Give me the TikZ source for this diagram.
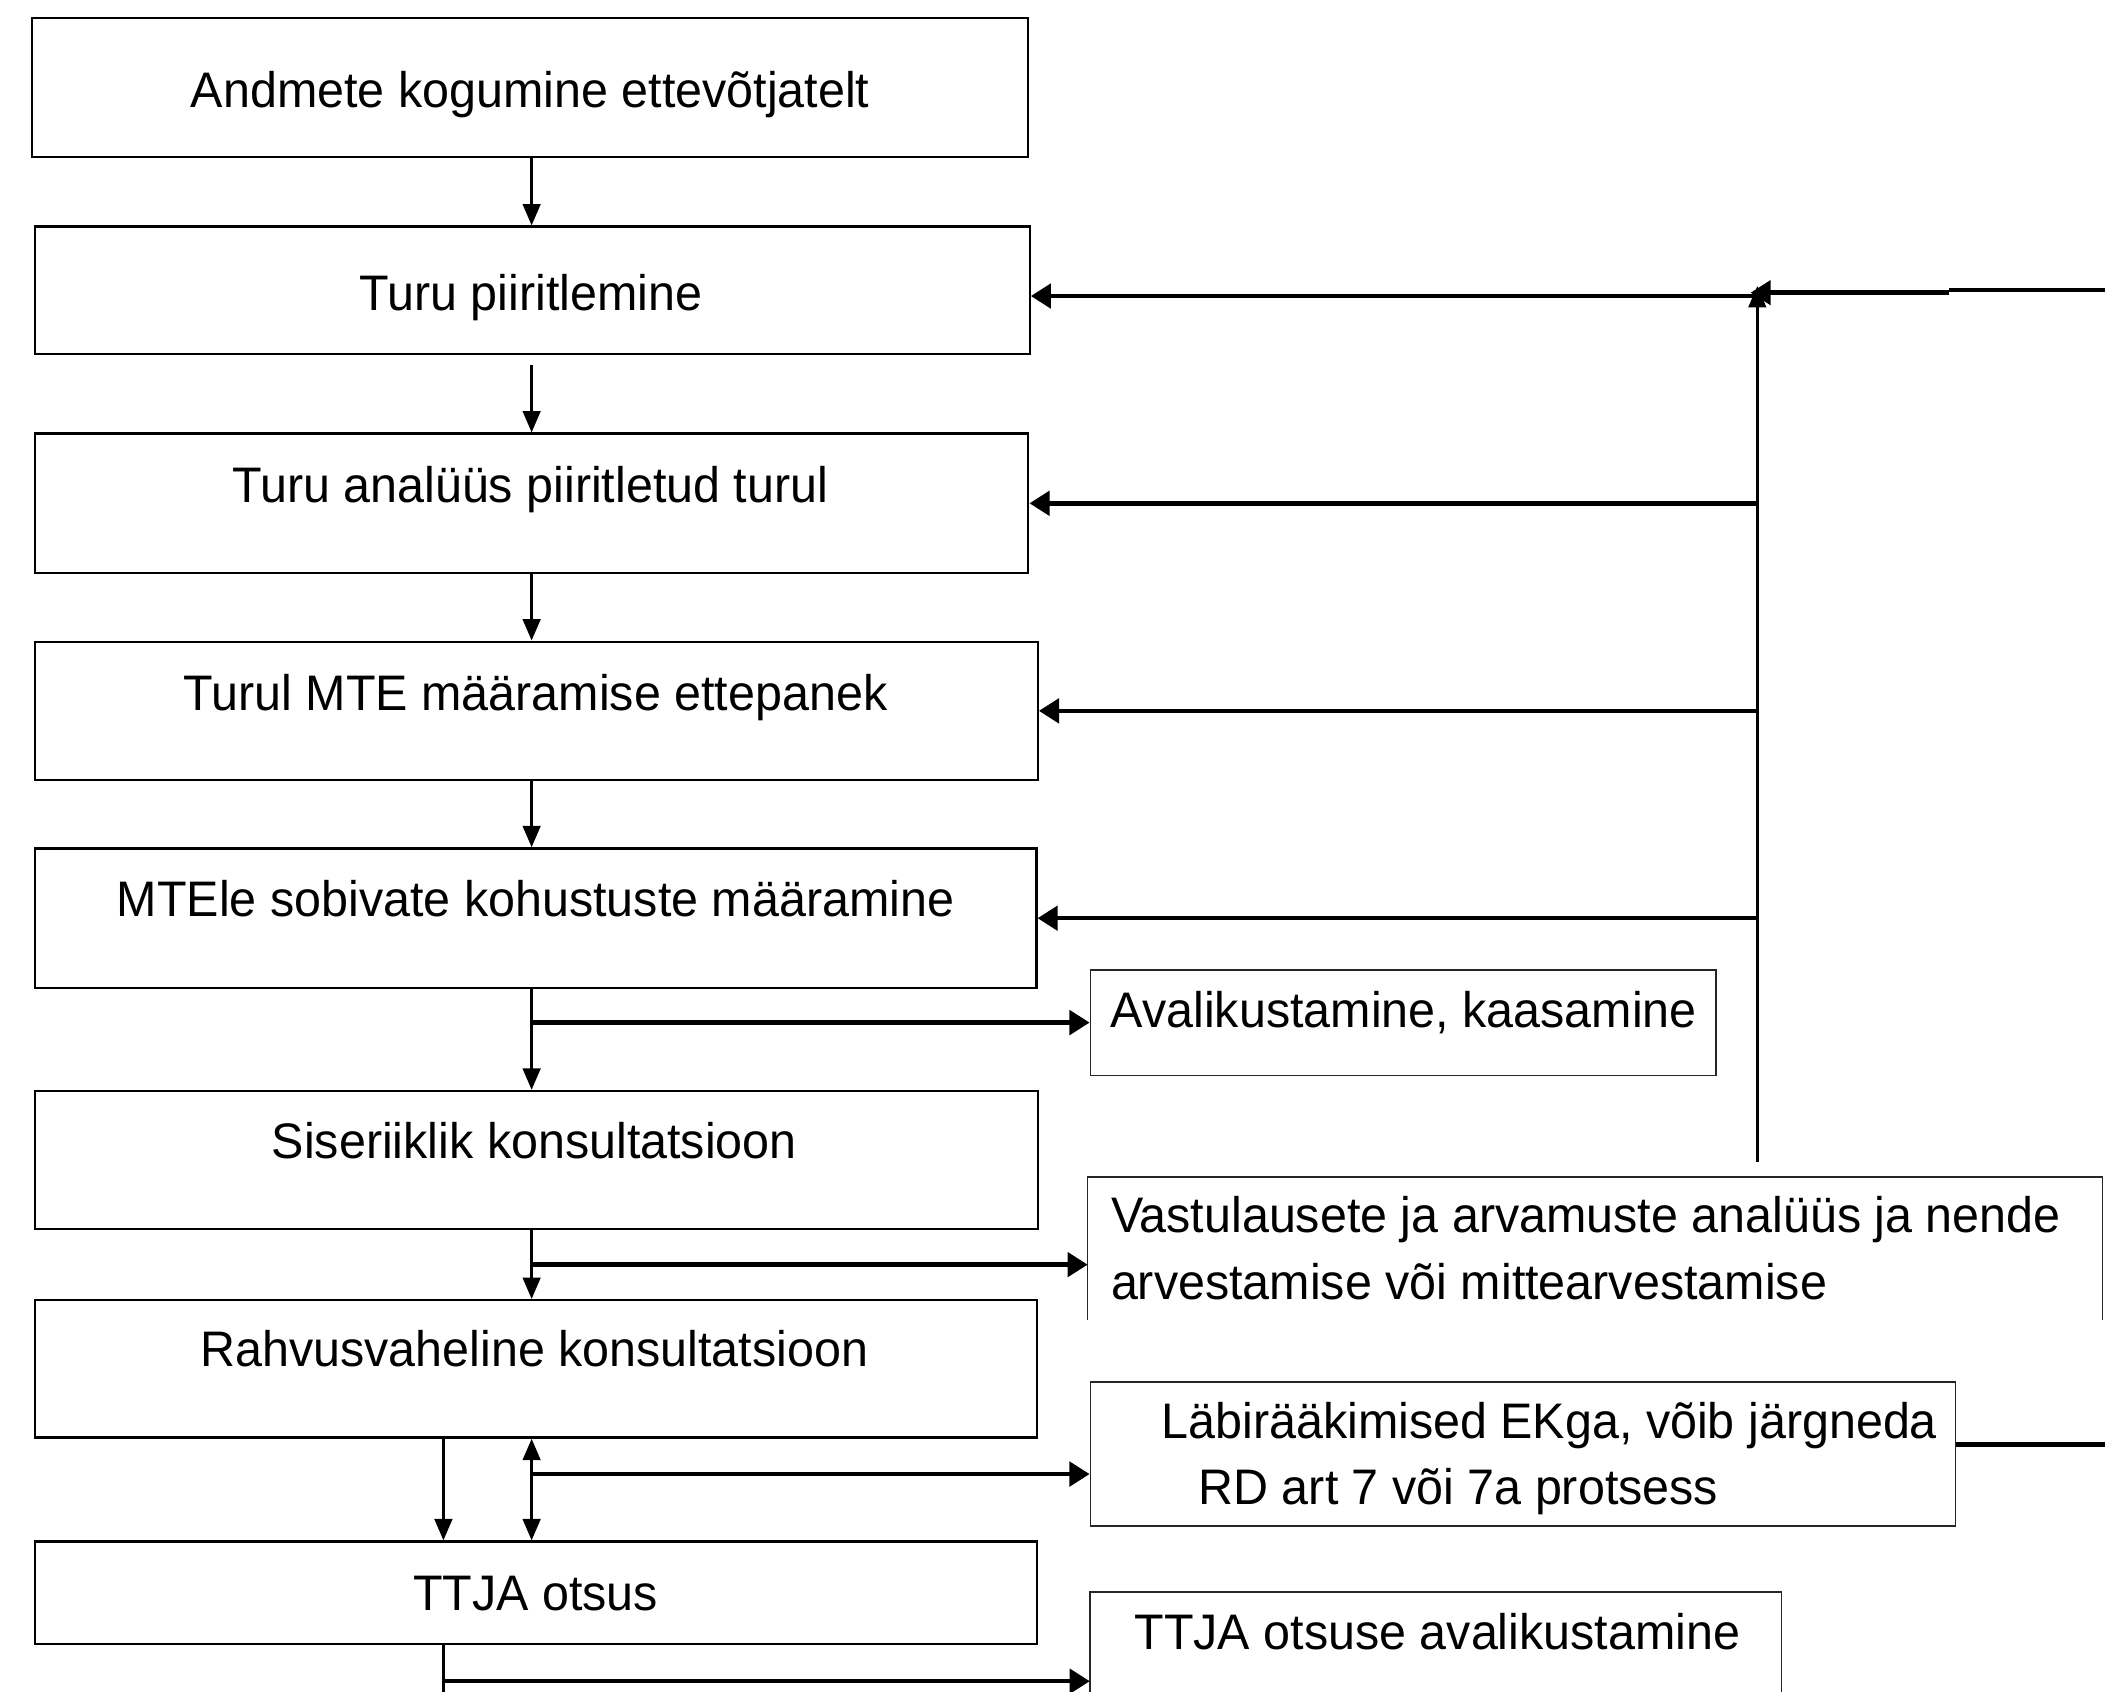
\documentclass[tikz,border=0pt]{standalone}
\usepackage{fontspec}
\setmainfont{Liberation Sans}[FakeStretch=0.97]
\usetikzlibrary{arrows.meta}
\begin{document}
\begin{tikzpicture}[x=0.5pt,y=-0.5pt,
  lbox/.style={draw, line width=0.85pt, inner sep=0pt},
  rbox/.style={inner sep=0pt},
  rframe/.style={line width=0.55pt, draw=black!85},
  txt/.style={anchor=base, inner sep=0pt, font=\fontsize{18.6}{25}\selectfont},
  ltxt/.style={anchor=base west, inner sep=0pt, font=\fontsize{18.6}{25}\selectfont},
  vline/.style={line width=1.2pt},
  varr/.style={vline, -{Triangle[length=8pt,width=6.5pt]}},
  hline/.style={line width=1.7pt},
  harr/.style={hline, -{Triangle[length=7.5pt,width=9pt]}}
]
\useasboundingbox (0,0) rectangle (1568,1260);

% left column boxes
\node[lbox, minimum width=371pt,   minimum height=51.7pt]  (b1) at (395,65.1) {};
\node[lbox, minimum width=370.5pt, minimum height=47.45pt] (b2) at (396.5,216.25) {};
\node[lbox, minimum width=370pt,   minimum height=51.9pt]  (b3) at (396,374.9) {};
\node[lbox, minimum width=373.5pt, minimum height=51.5pt]  (b4) at (399.5,529.5) {};
\node[lbox, minimum width=373pt,   minimum height=51.95pt] (b5) at (399,683.95) {};
\node[lbox, minimum width=373.5pt, minimum height=51.45pt] (b6) at (399.5,864.15) {};
\node[lbox, minimum width=373.15pt,minimum height=51.15pt] (b7) at (399.15,1019.65) {};
\node[lbox, minimum width=373.15pt,minimum height=38.25pt] (b8) at (399.15,1186.55) {};

\node[txt] (t1) at (395,80)     {Andmete kogumine ettevõtjatelt};
\node[txt] (t2) at (395.5,231)  {Turu piiritlemine};
\node[txt] (t3) at (395,374)    {Turu analüüs piiritletud turul};
\node[txt] (t4) at (399,529)    {Turul MTE määramise ettepanek};
\node[txt] (t5) at (399,683)    {MTEle sobivate kohustuste määramine};
\node[txt] (t6) at (398,862.7)  {Siseriiklik konsultatsioon};
\node[txt] (t7) at (398,1018)   {Rahvusvaheline konsultatsioon};
\node[txt] (t8) at (399,1199.4) {TTJA otsus};

% right column boxes
\node[rbox, rframe, draw, minimum width=233.05pt, minimum height=39.3pt] (A) at (1045.25,761.7) {};
\node[rbox, minimum width=377.5pt, minimum height=52.8pt] (B) at (1188.1,929.8) {};
\draw[rframe] (B.south west) -- (B.north west) -- (B.north east) -- (B.south east);
\node[rbox, rframe, draw, minimum width=322.3pt, minimum height=53.6pt] (C) at (1134.5,1083.1) {};
\node[rbox, minimum width=257.15pt, minimum height=37.85pt] (D) at (1069.35,1224.15) {};
\draw[rframe] (D.south west) -- (D.north west) -- (D.north east) -- (D.south east);

\node[ltxt] (tA)  at (827,765)      {Avalikustamine, kaasamine};
\node[ltxt] (tB1) at (827.2,918.4)  {Vastulausete ja arvamuste analüüs ja nende};
\node[ltxt] (tB2) at (827.2,967.8)  {arvestamise või mittearvestamise};
\node[ltxt] (tC1) at (864.8,1071.4) {Läbirääkimised EKga, võib järgneda};
\node[ltxt] (tC2) at (892.4,1120.8) {RD art 7 või 7a protsess};
\node[ltxt] (tD)  at (844.7,1228.7) {TTJA otsuse avalikustamine};

% helper coordinates
\coordinate (mx) at (396,0);
\coordinate (lx) at (330.3,0);
\coordinate (fx) at (1309,0);
\coordinate (s2) at (396,272);
\coordinate (yB) at (0,942);
\coordinate (yC) at (0,1098);
\coordinate (yD) at (0,1252.3);
\coordinate (y2) at (0,220.5);
\coordinate (fbot) at (1309,865.6);
\coordinate (ftop) at (1309,213);
\coordinate (e1) at (1568,216);
\coordinate (e1m) at (1452,216);
\coordinate (e1n) at (1452,218);
\coordinate (e1t) at (1304,218);
\coordinate (e2) at (1568,1076);
\coordinate (bot) at (330.3,1262);

% main flow
\draw[varr] (b1.south -| mx) -- (b2.north -| mx);
\draw[varr] (s2) -- (b3.north -| mx);
\draw[varr] (b3.south -| mx) -- (b4.north -| mx);
\draw[varr] (b4.south -| mx) -- (b5.north -| mx);
\draw[varr] (b5.south -| mx) -- (b6.north -| mx);
\draw[harr] (mx |- A.west) -- (A.west);
\draw[varr] (b6.south -| mx) -- (b7.north -| mx);
\draw[harr] (mx |- yB) -- (B.west |- yB);
\draw[varr] (b7.south -| lx) -- (b8.north -| lx);
\draw[vline, {Triangle[length=8pt,width=6.5pt]}-{Triangle[length=8pt,width=6.5pt]}] (b7.south -| mx) -- (b8.north -| mx);
\draw[harr] (mx |- yC) -- (C.west |- yC);
\draw[vline] (b8.south -| lx) -- (bot);
\draw[harr] (lx |- yD) -- (D.west |- yD);

% feedback
\draw[varr] (fbot) -- (ftop);
\draw[vline] (e1) -- (e1m);
\draw[harr] (e1n) -- (e1t);
\draw[harr] (fx |- y2) -- (b2.east |- y2);
\draw[harr] (fx |- b3.east) -- (b3.east);
\draw[harr] (fx |- b4.east) -- (b4.east);
\draw[harr] (fx |- b5.east) -- (b5.east);
\draw[hline] (C.east |- e2) -- (e2);
\end{tikzpicture}
\end{document}
